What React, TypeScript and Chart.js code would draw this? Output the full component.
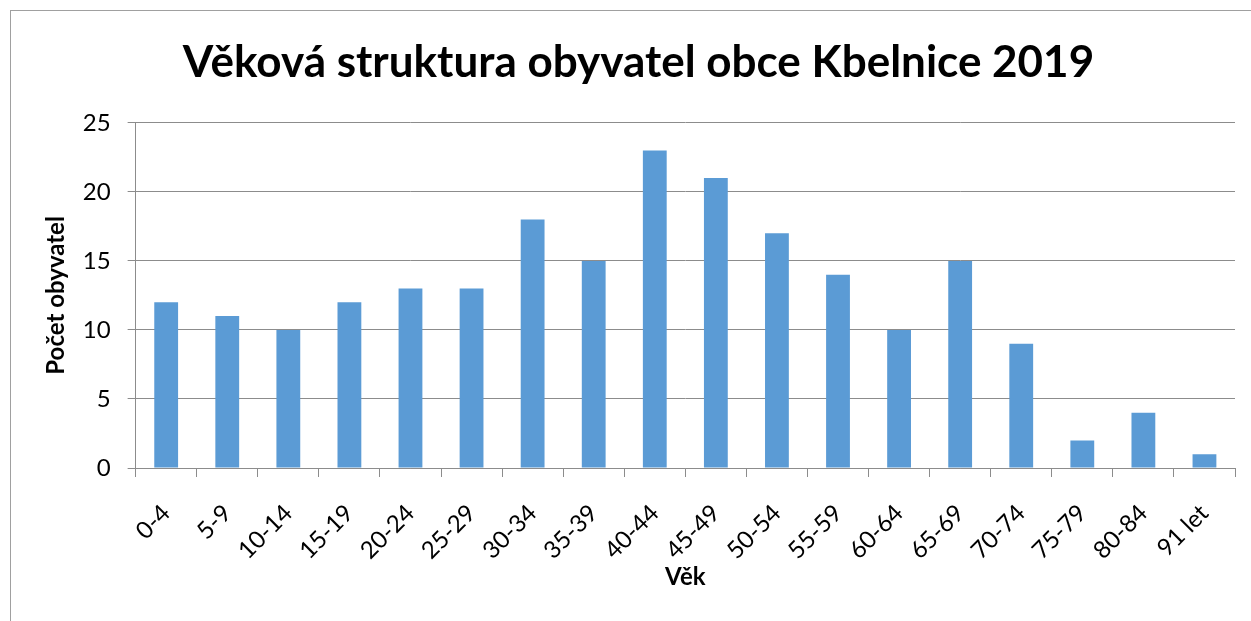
import React, { useEffect, useRef } from 'react';
import { Chart, registerables } from 'chart.js';

Chart.register(...registerables);

const titleText = 'Věková struktura obyvatel obce Kbelnice 2019';
const categories = ['0-4', '5-9', '10-14', '15-19', '20-24', '25-29', '30-34', '35-39', '40-44', '45-49', '50-54', '55-59', '60-64', '65-69', '70-74', '75-79', '80-84', '91 let'];
const values = [12, 11, 10, 12, 13, 13, 18, 15, 23, 21, 17, 14, 10, 15, 9, 2, 4, 1];
const yMin = 0;
const yMax = 25;
const yStep = 5;
const yTitle = 'Počet obyvatel';
const xTitle = 'Věk';

const FONT = 'Lato, "Open Sans", sans-serif';
const GRID = '#8c8c8c';

export default function App() {
  const ref = useRef<HTMLCanvasElement | null>(null);

  useEffect(() => {
    if (!ref.current) return;
    const chart = new Chart(ref.current, {
      type: 'bar',
      data: {
        labels: categories,
        datasets: [
          {
            data: values,
            backgroundColor: '#5B9BD5',
            borderWidth: 0,
            barPercentage: 0.39,
            categoryPercentage: 1,
          },
        ],
      },
      options: {
        animation: false,
        responsive: false,
        maintainAspectRatio: false,
        layout: { padding: { left: 42, right: 16, top: 0, bottom: 29 } },
        plugins: {
          legend: { display: false },
          tooltip: { enabled: false },
          title: {
            display: true,
            text: titleText,
            color: '#000',
            font: { family: FONT, size: 44, weight: 'bold' },
            padding: { top: 36, bottom: 34 },
          },
        },
        scales: {
          x: {
            offset: true,
            afterFit: (scale: any) => {
              scale.height = 124;
            },
            grid: { drawOnChartArea: false, drawTicks: true, tickLength: 9, color: GRID, offset: true },
            border: { color: GRID },
            ticks: { color: '#000', font: { family: FONT, size: 24 }, minRotation: 45, maxRotation: 45, padding: 22 },
            title: { display: true, text: xTitle, color: '#000', font: { family: FONT, size: 24, weight: 'bold' }, padding: { top: 0, bottom: 0 } },
          },
          y: {
            min: yMin,
            max: yMax,
            ticks: { stepSize: yStep, color: '#000', font: { family: FONT, size: 24 }, padding: 17 },
            grid: { color: GRID, tickLength: 8 },
            border: { color: GRID },
            title: { display: true, text: yTitle, color: '#000', font: { family: FONT, size: 24, weight: 'bold' }, padding: { top: 0, bottom: -5 } },
          },
        },
      },
    });
    return () => chart.destroy();
  }, []);

  return (
    <div style={{ position: 'fixed', left: 0, top: 0, width: 1251, height: 621, background: '#fff', overflow: 'hidden' }}>
      <div style={{ position: 'absolute', left: 10, top: 10, width: 1300, height: 700, border: '1px solid #a0a0a0' }} />
      <canvas ref={ref} width={1251} height={621} style={{ position: 'absolute', left: 0, top: 0 }} />
    </div>
  );
}
